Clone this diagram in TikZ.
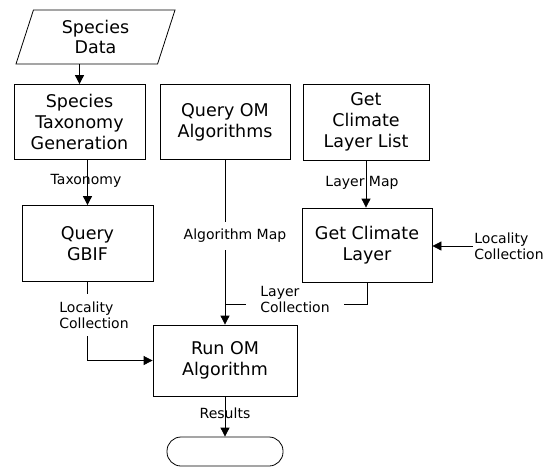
\documentclass[tikz,border=0pt]{standalone}
\usepackage{fontspec}
\setmainfont{DejaVu Sans}
\usetikzlibrary{arrows.meta,shapes.geometric}

\begin{document}
\begin{tikzpicture}[x=1pt,y=-1pt,line width=0.8pt,>={Triangle[length=9pt,width=9pt]},
        box/.style={draw,align=center,inner sep=0pt,font=\fontsize{17.5}{20.7}\selectfont},
        lbl/.style={align=center,inner sep=1pt,font=\fontsize{14}{16}\selectfont},
        gap/.style={lbl,fill=white}]
  \useasboundingbox (0,0) rectangle (548,467);
  % boxes
  \node[box,trapezium,trapezium left angle=63,trapezium right angle=117,
        trapezium stretches body,minimum width=159pt,minimum height=54pt] (data) at (95.5,37) {Species\\Data};
  \node[box,minimum width=131pt,minimum height=75pt] (tax) at (79.5,122) {Species\\Taxonomy\\Generation};
  \node[box,minimum width=130pt,minimum height=75pt] (qom) at (225,122) {Query OM\\Algorithms};
  \node[box,minimum width=126pt,minimum height=76pt] (list) at (366,122) {Get\\Climate\\Layer List};
  \node[box,minimum width=131pt,minimum height=76pt] (gbif) at (87.5,243.5) {Query\\GBIF};
  \node[box,minimum width=130pt,minimum height=74pt] (clim) at (367,245) {Get Climate\\Layer};
  \node[box,minimum width=144pt,minimum height=71pt] (run) at (225,360.5) {Run OM\\Algorithm};
  \node[draw,rounded corners=14pt,minimum width=116pt,minimum height=29pt] (stop) at (225,451.5) {};
  \coordinate (join) at (225,304);
  % flows
  \draw[->] (tax.north |- data.south) -- (tax.north);
  \draw[->] (tax.south -| gbif.north) -- (gbif.north);
  \node[lbl] (taxlbl) at (86,181) {Taxonomy};
  \draw[->] (qom) -- (run);
  \node[gap,inner ysep=7pt] (algolbl) at (235,236) {Algorithm Map};
  \draw[->] (list.south) -- (list.south |- clim.north);
  \node[lbl] (maplbl) at (362,183) {Layer Map};
  \draw (clim.south) |- (join);
  \node[gap,align=left,inner xsep=14pt] (layerlbl) at (295,299) {Layer\\Collection};
  \draw[->] (gbif.south) |- (run.west);
  \node[gap,align=left,inner ysep=8pt] (loclbl) at (94,315) {Locality\\Collection};
  \node[lbl,align=left,anchor=west] (loc2lbl) at (473,246) {Locality\\Collection};
  \draw[->] (loc2lbl.west) -- (loc2lbl.west -| clim.east);
  \draw[->] (run) -- (stop);
  \node[lbl] (reslbl) at (225,413) {Results};
\end{tikzpicture}
\end{document}
